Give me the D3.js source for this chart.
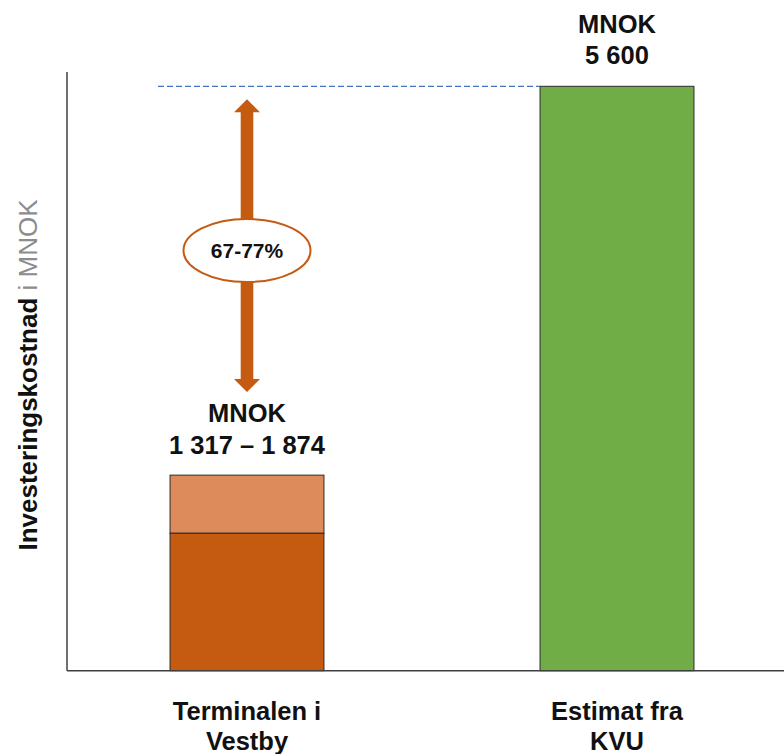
<!DOCTYPE html>
<html>
<head>
<meta charset="utf-8">
<script src="https://cdn.jsdelivr.net/npm/d3@7"></script>
<style>
  html, body { margin: 0; padding: 0; background: #fff; }
  svg { display: block; font-family: "Liberation Sans", Arial, Helvetica, sans-serif; }
</style>
</head>
<body>
<svg id="chart" width="784" height="754"></svg>
<script>
// Categories and values (MNOK)
const categories = ["Terminalen i Vestby", "Estimat fra KVU"];
const categoryLines = [["Terminalen i", "Vestby"], ["Estimat fra", "KVU"]];
const lowValues = [1317, null];     // lower estimate for the terminal
const highValues = [1874, 5600];    // upper estimate / KVU estimate
const valueLabels = [["MNOK", "1 317 \u2013 1 874"], ["MNOK", "5 600"]];
const savingLabel = "67-77%";

const colors = {
  low: "#C55A11",
  high: "#DD8B5A",
  kvu: "#70AD47",
  axis: "#404040",
  dash: "#4472C4"
};

const svg = d3.select("#chart");

const x = d3.scaleBand()
  .domain(categories)
  .range([62, 802])
  .paddingInner(0.584)
  .paddingOuter(0.292);

const y = d3.scaleLinear()
  .domain([0, 5600])
  .range([670.7, 86.3]);

const bw = x.bandwidth();

// Terminal bar: lower estimate plus range up to upper estimate
const t = categories[0];
svg.append("rect")
  .attr("x", x(t)).attr("width", bw)
  .attr("y", y(highValues[0])).attr("height", y(lowValues[0]) - y(highValues[0]))
  .attr("fill", colors.high).attr("stroke", "#2b2b2b").attr("stroke-width", 1);
svg.append("rect")
  .attr("x", x(t)).attr("width", bw)
  .attr("y", y(lowValues[0])).attr("height", y(0) - y(lowValues[0]))
  .attr("fill", colors.low).attr("stroke", "#2b2b2b").attr("stroke-width", 1);

// KVU bar
const k = categories[1];
svg.append("rect")
  .attr("x", x(k)).attr("width", bw)
  .attr("y", y(highValues[1])).attr("height", y(0) - y(highValues[1]))
  .attr("fill", colors.kvu).attr("stroke", "#2b2b2b").attr("stroke-width", 1);

// Dashed reference line at the KVU level
svg.append("line")
  .attr("x1", 158).attr("x2", x(k))
  .attr("y1", y(highValues[1])).attr("y2", y(highValues[1]))
  .attr("stroke", colors.dash).attr("stroke-width", 1.2)
  .attr("stroke-dasharray", "6,3");

// Axes (lines only, no ticks)
svg.append("line")
  .attr("x1", 67).attr("x2", 67)
  .attr("y1", 72).attr("y2", y(0))
  .attr("stroke", colors.axis).attr("stroke-width", 1.5);
svg.append("line")
  .attr("x1", 67).attr("x2", 784)
  .attr("y1", y(0)).attr("y2", y(0))
  .attr("stroke", colors.axis).attr("stroke-width", 1.5);

// Double-headed arrow showing the saving
const cx = x(t) + bw / 2;
const topTip = y(highValues[1]) + 13;
const botTip = 392;
const head = 13, headW = 13, shaftW = 6.3;
const arrowPath = d3.path();
arrowPath.moveTo(cx, topTip);
arrowPath.lineTo(cx + headW, topTip + head);
arrowPath.lineTo(cx + shaftW, topTip + head);
arrowPath.lineTo(cx + shaftW, botTip - head);
arrowPath.lineTo(cx + headW, botTip - head);
arrowPath.lineTo(cx, botTip);
arrowPath.lineTo(cx - headW, botTip - head);
arrowPath.lineTo(cx - shaftW, botTip - head);
arrowPath.lineTo(cx - shaftW, topTip + head);
arrowPath.lineTo(cx - headW, topTip + head);
arrowPath.closePath();
svg.append("path").attr("d", arrowPath.toString()).attr("fill", colors.low);

const ecy = 250.5;
svg.append("ellipse")
  .attr("cx", cx).attr("cy", ecy).attr("rx", 63.5).attr("ry", 31.5)
  .attr("fill", "#fff").attr("stroke", colors.low).attr("stroke-width", 2);
svg.append("text")
  .attr("x", cx).attr("y", ecy + 7.5)
  .attr("text-anchor", "middle")
  .attr("font-size", 21).attr("font-weight", "bold").attr("fill", "#111")
  .text(savingLabel);

// Value labels above bars
const labelY = [[422, 454], [33, 64]];
categories.forEach((c, i) => {
  const g = svg.append("text")
    .attr("text-anchor", "middle")
    .attr("font-size", 25.5).attr("font-weight", "bold").attr("fill", "#111");
  valueLabels[i].forEach((line, j) => {
    g.append("tspan").attr("x", x(c) + bw / 2).attr("y", labelY[i][j]).text(line);
  });
});

// Category labels below the axis
categories.forEach((c, i) => {
  const g = svg.append("text")
    .attr("text-anchor", "middle")
    .attr("font-size", 25.5).attr("font-weight", "bold").attr("fill", "#111");
  categoryLines[i].forEach((line, j) => {
    g.append("tspan").attr("x", x(c) + bw / 2).attr("y", 720 + j * 30).text(line);
  });
});

// Y-axis title
const yt = svg.append("text")
  .attr("transform", "translate(36.5,375) rotate(-90)")
  .attr("text-anchor", "middle")
  .attr("font-size", 26);
yt.append("tspan").attr("font-weight", "bold").attr("fill", "#111").text("Investeringskostnad");
yt.append("tspan").attr("fill", "#8c8c8c").text(" i MNOK");
</script>
</body>
</html>
